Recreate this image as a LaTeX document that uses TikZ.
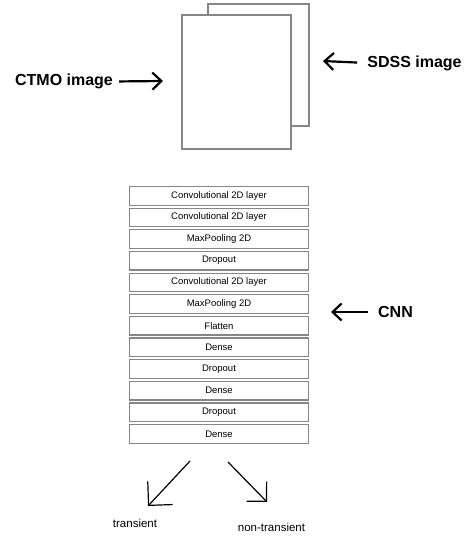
\documentclass[tikz,border=0pt]{standalone}
\usepackage{fontspec}
\setmainfont{Liberation Sans}
\usetikzlibrary{arrows.meta}

\begin{document}
\begin{tikzpicture}[x=1pt, y=-1pt,
    imgbox/.style={draw=gray!95, line width=1.3pt, fill=white, minimum width=#1},
    layer/.style={draw=gray!95, line width=1.2pt, fill=white, minimum width=179pt, minimum height=18.6pt, inner sep=0pt, font=\fontsize{9.5}{11}\selectfont},
    biglabel/.style={font=\fontsize{16}{19}\selectfont\bfseries, inner sep=0pt},
    outlabel/.style={font=\fontsize{11.5}{14}\selectfont, inner sep=0pt},
    inarrow/.style={-{Straight Barb[length=9pt, width=17pt]}, line width=2.2pt},
    outarrow/.style={line width=1.2pt}]
            \useasboundingbox (0,0) rectangle (469,539);

            % Input images
            \node[imgbox=101pt, minimum height=122pt] (sdss) at (258.5,65) {};
            \node[imgbox=109pt, minimum height=134pt] (ctmo) at (236.5,82) {};

            % Image labels
            \node[biglabel] (ctmolabel) at (64,81.5) {CTMO image};
            \node[biglabel] (sdsslabel) at (414.5,63) {SDSS image};
            \coordinate (ctmotip) at (163,81);
            \coordinate (sdsstip) at (323,61);
            \draw[inarrow, shorten <=6pt] (ctmolabel.east) -- (ctmotip);
            \draw[inarrow, shorten <=10pt] (sdsslabel.west) -- (sdsstip);

            % CNN layers
            \node[layer] (conva) at (219,195.8) {Convolutional 2D layer};
            \node[layer] (convb) at (219,217.4) {Convolutional 2D layer};
            \node[layer] (poola) at (219,239.1) {MaxPooling 2D};
            \node[layer] (dropa) at (219,260.7) {Dropout};
            \node[layer] (convc) at (219,282.4) {Convolutional 2D layer};
            \node[layer] (poolb) at (219,304.0) {MaxPooling 2D};
            \node[layer] (flat) at (219,325.6) {Flatten};
            \node[layer] (densea) at (219,347.3) {Dense};
            \node[layer] (dropb) at (219,368.9) {Dropout};
            \node[layer] (denseb) at (219,390.6) {Dense};
            \node[layer] (dropc) at (219,412.2) {Dropout};
            \node[layer] (densec) at (219,433.8) {Dense};

            % CNN label
            \node[biglabel] (cnnlabel) at (395.5,312) {CNN};
            \coordinate (cnntip) at (331,312);
            \draw[inarrow, shorten <=10pt] (cnnlabel.west) -- (cnntip);

            % Outputs
            \node[outlabel] (transient) at (135,523) {transient};
            \node[outlabel] (nontransient) at (271.5,527) {non-transient};
            \coordinate (leftstart) at (190,461);
            \coordinate (leftend) at (148,506);
            \coordinate (rightstart) at (228,462);
            \coordinate (rightend) at (267,502);
            \draw[outarrow, -{Straight Barb[length=17pt, width=34pt]}] (leftstart) -- (leftend);
            \draw[outarrow, -{Straight Barb[length=14pt, width=28pt]}] (rightstart) -- (rightend);
        \end{tikzpicture}
\end{document}
